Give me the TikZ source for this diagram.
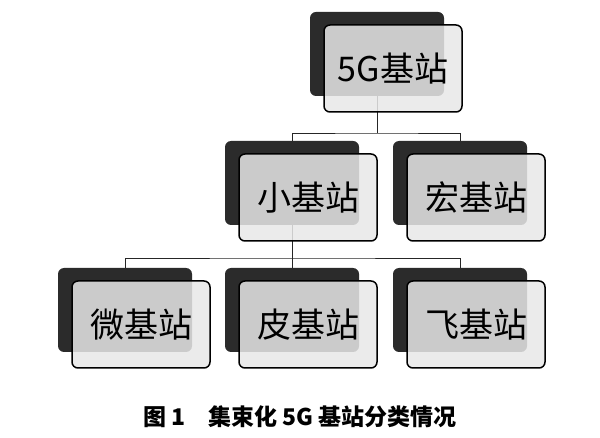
\documentclass[tikz,border=0pt]{standalone}
\usepackage{fontspec}
\setmainfont{Noto Sans CJK SC}
\usetikzlibrary{positioning,calc}

\tikzset{
  backbox/.style={fill=black!83,rounded corners=6pt,minimum width=134pt,minimum height=84pt,inner sep=0pt},
  frontbox/.style={draw=black,line width=1.5pt,fill=black!9,fill opacity=0.85,text opacity=1,
    rounded corners=6pt,minimum width=138pt,minimum height=87pt,inner sep=0pt,
    font=\fontsize{34}{40}\selectfont},
  link/.style={line width=0.9pt,draw=black!85},
}

\begin{document}
\begin{tikzpicture}[x=1pt,y=-1pt]
\useasboundingbox (0,0) rectangle (600,438);
% dark plates behind
\foreach \n/\x/\y in {top/377/54,small/292/183,macro/460/183,micro/125/310,pico/292/310,femto/460/310}
  \node[backbox] (\n-b) at (\x,\y) {};
% tree lines
\coordinate (bus1) at (377,133);
\coordinate (bus2) at (292,258);
\draw[link] (top-b.south) -- (bus1);
\draw[link] (small-b.north) |- (bus1) -| (macro-b.north);
\draw[link] (small-b.south) -- (bus2);
\draw[link] (micro-b.north) |- (bus2) -| (femto-b.north);
\draw[link] (bus2) -- (pico-b.north);
% light cards in front
\foreach \n/\t in {top/5G基站,small/小基站,macro/宏基站,micro/微基站,pico/皮基站,femto/飞基站}
  \node[frontbox] (\n) at ($(\n-b)+(16,14.5)$) {\t};
% caption
\node[font=\fontsize{23}{27}\selectfont\bfseries] (cap) at (300,417) {图 1\quad 集束化 5G 基站分类情况};
\end{tikzpicture}
\end{document}
